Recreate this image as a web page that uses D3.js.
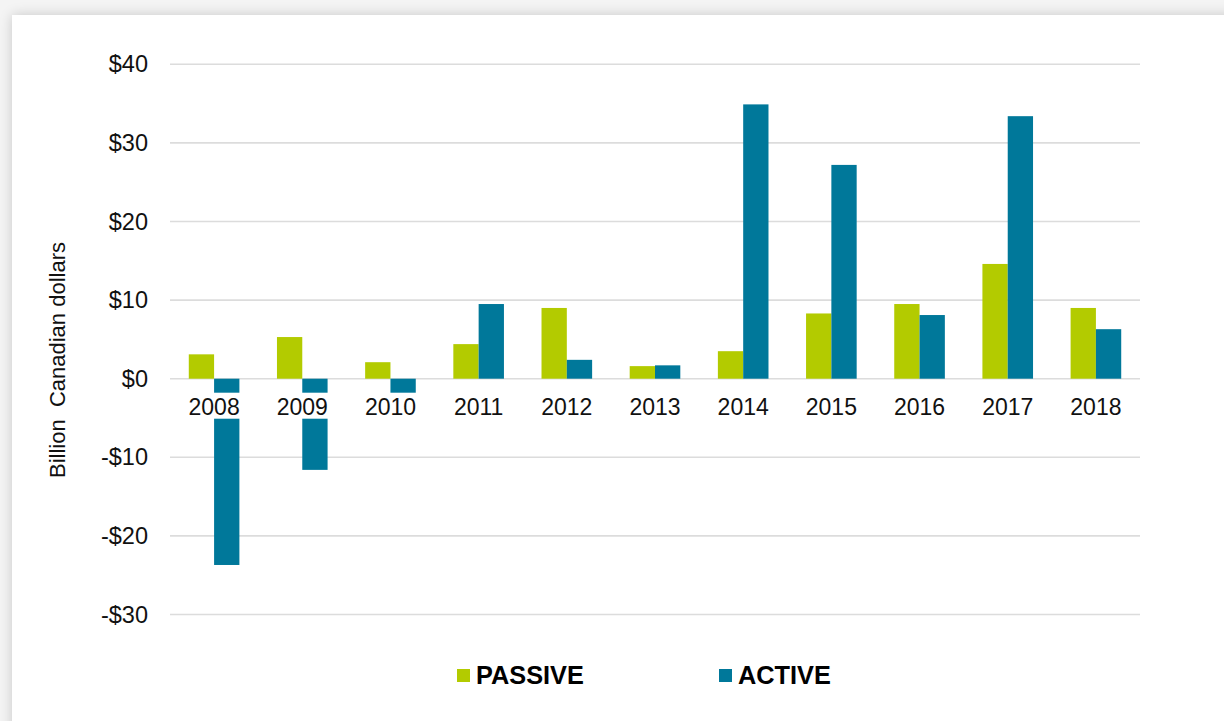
<!DOCTYPE html>
<html>
<head>
<meta charset="utf-8">
<script src="https://cdn.jsdelivr.net/npm/d3@7"></script>
<style>
  html, body { margin: 0; padding: 0; background: #f4f4f4; overflow: hidden; }
  #card {
    position: absolute; left: 12px; top: 15px; width: 1240px; height: 740px;
    background: #fff; box-shadow: 0 0 12px rgba(0,0,0,0.18);
  }
  svg { position: absolute; left: 0; top: 0; }
  text { font-family: "Liberation Sans", Arial, sans-serif; }
</style>
</head>
<body>
<div id="card"></div>
<svg id="chart" width="1224" height="721"></svg>
<script>
// chart data (billion CAD, net flows)
var years = ["2008", "2009", "2010", "2011", "2012", "2013", "2014", "2015", "2016", "2017", "2018"];
var passive = [3.1, 5.3, 2.1, 4.4, 9.0, 1.6, 3.5, 8.3, 9.5, 14.6, 9.0];
var active = [-23.7, -11.6, -3.0, 9.5, 2.4, 1.7, 34.9, 27.2, 8.1, 33.4, 6.3];
var yTicks = [-30, -20, -10, 0, 10, 20, 30, 40];
var seriesNames = ["PASSIVE", "ACTIVE"];
var seriesColors = ["#b3cb00", "#00789a"];

var svg = d3.select("#chart");
var x0 = 170, x1 = 1140;

// x band scale: one band per year, pair of bars inside
var x = d3.scaleBand()
    .domain(years)
    .range([x0, x1])
    .paddingInner(0.426)
    .paddingOuter(0.213);
var xs = d3.scaleBand()
    .domain(seriesNames)
    .range([0, x.bandwidth()]);

var y = d3.scaleLinear()
    .domain([-30, 40])
    .range([614.5, 64.3]);

// gridlines
svg.append("g")
    .selectAll("line")
    .data(yTicks)
    .enter()
    .append("line")
    .attr("x1", x0)
    .attr("x2", x1)
    .attr("y1", function(d) { return y(d); })
    .attr("y2", function(d) { return y(d); })
    .attr("stroke", "#dcdcdc")
    .attr("stroke-width", 1.6);

// y axis labels
var yAxis = d3.axisLeft(y)
    .tickValues(yTicks)
    .tickSize(0)
    .tickPadding(22)
    .tickFormat(function(d) { return (d < 0 ? "-$" : "$") + Math.abs(d); });
var gy = svg.append("g")
    .attr("transform", "translate(" + x0 + ",0)")
    .call(yAxis);
gy.select(".domain").remove();
gy.selectAll("text")
    .attr("font-family", "Liberation Sans, Arial, sans-serif")
    .attr("font-size", 23.5)
    .attr("fill", "#111");

// bars
var rows = years.map(function(yr, i) {
    return {year: yr, values: [passive[i], active[i]]};
});
var groups = svg.append("g")
    .selectAll("g")
    .data(rows)
    .enter()
    .append("g")
    .attr("transform", function(d) { return "translate(" + x(d.year) + ",0)"; });

groups.selectAll("rect")
    .data(function(d) { return d.values.map(function(v, j) { return {key: seriesNames[j], value: v, color: seriesColors[j]}; }); })
    .enter()
    .append("rect")
    .attr("x", function(d) { return xs(d.key); })
    .attr("width", xs.bandwidth())
    .attr("y", function(d) { return y(Math.max(0, d.value)); })
    .attr("height", function(d) { return Math.abs(y(d.value) - y(0)); })
    .attr("fill", function(d) { return d.color; });

// x axis labels sit on white boxes over the bars
var xAxis = d3.axisBottom(x).tickSize(0).tickPadding(0);
var gx = svg.append("g")
    .attr("transform", "translate(0," + y(0) + ")")
    .call(xAxis);
gx.select(".domain").remove();
gx.selectAll(".tick").insert("rect", "text")
    .attr("x", -27)
    .attr("y", 14)
    .attr("width", 54)
    .attr("height", 26)
    .attr("fill", "#fff");
gx.selectAll("text")
    .attr("font-family", "Liberation Sans, Arial, sans-serif")
    .attr("font-size", 23)
    .attr("fill", "#111")
    .attr("dy", null)
    .attr("y", 36);

// y axis title
svg.append("text")
    .attr("transform", "translate(65,360) rotate(-90)")
    .attr("text-anchor", "middle")
    .attr("font-size", 22)
    .attr("fill", "#111")
    .attr("xml:space", "preserve")
    .text("Billion  Canadian dollars");

// legend
var legendX = [457, 719];
var legend = svg.append("g")
    .selectAll("g")
    .data(seriesNames)
    .enter()
    .append("g")
    .attr("transform", function(d, i) { return "translate(" + legendX[i] + ",669)"; });
legend.append("rect")
    .attr("width", 13)
    .attr("height", 13)
    .attr("fill", function(d, i) { return seriesColors[i]; });
legend.append("text")
    .attr("x", 19)
    .attr("y", 15)
    .attr("font-size", 25.3)
    .attr("font-weight", "bold")
    .attr("fill", "#000")
    .text(function(d) { return d; });
</script>
</body>
</html>
